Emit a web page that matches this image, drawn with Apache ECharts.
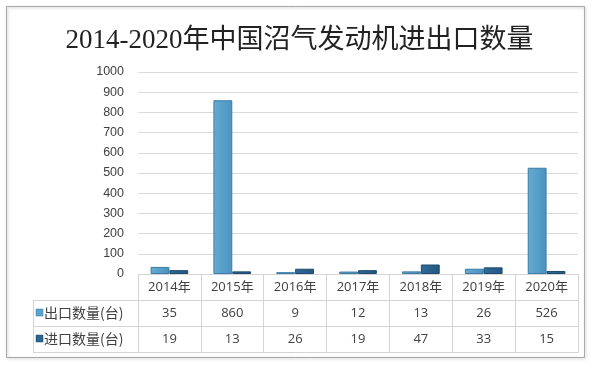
<!DOCTYPE html>
<html><head><meta charset="utf-8">
<script src="https://cdn.jsdelivr.net/npm/echarts@6/dist/echarts.min.js"></script>
<style>html,body{margin:0;padding:0;background:#fff}#c{width:599px;height:365px}</style>
</head><body><div id="c"></div>
<script>
const title = '2014-2020年中国沼气发动机进出口数量';
const categories = ['2014年','2015年','2016年','2017年','2018年','2019年','2020年'];
const exportName = '出口数量(台)';
const importName = '进口数量(台)';
const exportValues = [35, 860, 9, 12, 13, 26, 526];
const importValues = [19, 13, 26, 19, 47, 33, 15];
const yTicks = [0,100,200,300,400,500,600,700,800,900,1000];

const chart = echarts.init(document.getElementById('c'), null, {renderer:'canvas'});
const gridL = 138, gridR = 578, gridT = 72, axisY = 274;
const rowH = 26;
const lineColor = '#d4d4d4';
const textColor = '#404040';
const expColor = {type:'linear',x:0,y:0,x2:1,y2:0,colorStops:[{offset:0,color:'#64acd3'},{offset:1,color:'#4b92bf'}]};
const impColor = {type:'linear',x:0,y:0,x2:1,y2:0,colorStops:[{offset:0,color:'#2f6c99'},{offset:1,color:'#23577f'}]};

chart.setOption({
  animation:false,
  backgroundColor:'#fff',
  title:{text:title,left:'center',top:22,textStyle:{fontFamily:'"Liberation Serif","Noto Sans CJK SC",serif',fontSize:27,fontWeight:'normal',color:'#222'}},
  grid:{left:gridL,right:599-gridR,top:gridT,bottom:365-axisY},
  xAxis:{type:'category',data:categories,boundaryGap:true,
    axisLine:{show:true,lineStyle:{color:lineColor,width:1}},
    axisTick:{show:true,interval:0,length:rowH*3+1,lineStyle:{color:lineColor}},
    axisLabel:{interval:0,margin:0,
      formatter:(v,i)=>`{h|${v}}\n{d|${exportValues[i]}}\n{d|${importValues[i]}}`,
      rich:{h:{fontSize:13,lineHeight:rowH,color:textColor,fontFamily:'"Open Sans","Noto Sans CJK SC",sans-serif'},
            d:{fontSize:13,lineHeight:rowH,color:textColor,fontFamily:'"Open Sans","Noto Sans CJK SC",sans-serif'}}}
  },
  yAxis:{type:'value',min:0,max:1000,interval:100,
    axisLine:{show:false},axisTick:{show:false},
    axisLabel:{margin:14,fontSize:12.5,color:textColor,fontFamily:'"Liberation Sans",sans-serif',
      formatter:v=>yTicks.includes(v)?String(v):''},
    splitLine:{lineStyle:{color:'#dadada',width:1}}
  },
  series:[
    {name:exportName,type:'bar',data:exportValues,barGap:'0%',barCategoryGap:'40%',
     itemStyle:{color:expColor,borderColor:'#3b7ba6',borderWidth:1}},
    {name:importName,type:'bar',data:importValues,
     itemStyle:{color:impColor,borderColor:'#1d4a6e',borderWidth:1}}
  ],
  graphic:[
    {type:'rect',shape:{x:6.5,y:6.5,width:578,height:351},style:{fill:'none',stroke:'#a8a8a8',lineWidth:1,shadowBlur:3,shadowColor:'rgba(0,0,0,0.25)',shadowOffsetX:1,shadowOffsetY:1},z:-1},
    {type:'line',shape:{x1:33,y1:axisY+rowH+0.5,x2:gridR,y2:axisY+rowH+0.5},style:{stroke:lineColor}},
    {type:'line',shape:{x1:33,y1:axisY+rowH*2+0.5,x2:gridR,y2:axisY+rowH*2+0.5},style:{stroke:lineColor}},
    {type:'line',shape:{x1:33,y1:axisY+rowH*3+0.5,x2:gridR,y2:axisY+rowH*3+0.5},style:{stroke:lineColor}},
    {type:'line',shape:{x1:33.5,y1:axisY+rowH,x2:33.5,y2:axisY+rowH*3+1},style:{stroke:lineColor}},
    {type:'rect',shape:{x:36,y:axisY+rowH+9,width:7,height:7},style:{fill:'#5aa3cd',stroke:'#3b7ba6',lineWidth:0.5}},
    {type:'text',x:44,y:axisY+rowH+13,style:{text:exportName,fontSize:14,fill:textColor,verticalAlign:'middle',fontFamily:'"Noto Sans CJK SC",sans-serif'}},
    {type:'rect',shape:{x:36,y:axisY+rowH*2+9,width:7,height:7},style:{fill:'#2a6491',stroke:'#1d4a6e',lineWidth:0.5}},
    {type:'text',x:44,y:axisY+rowH*2+13,style:{text:importName,fontSize:14,fill:textColor,verticalAlign:'middle',fontFamily:'"Noto Sans CJK SC",sans-serif'}}
  ]
});
</script></body></html>
